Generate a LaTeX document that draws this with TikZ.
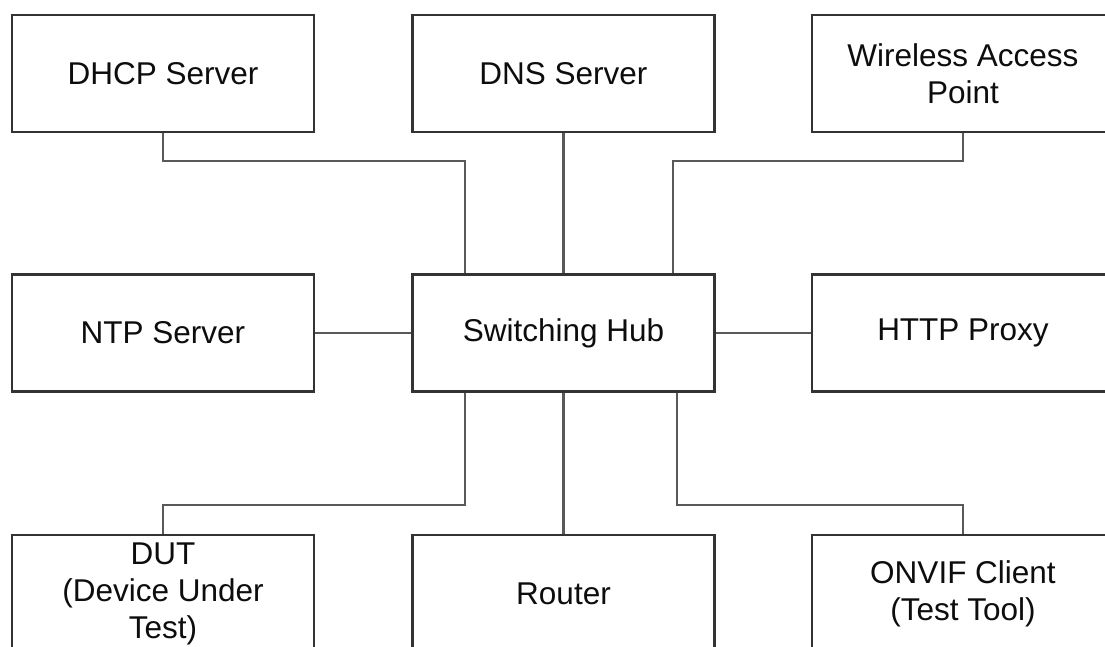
\documentclass[tikz,border=0pt]{standalone}
\usepackage{fontspec}
\setmainfont{Liberation Sans}
\begin{document}
\begin{tikzpicture}[x=1pt,y=-1pt,
  box/.style={draw=black!80, line width=2.2pt, fill=white, minimum width=302pt, minimum height=117pt,
    align=center, inner sep=0pt, text=black!95, font=\fontsize{31.5}{37}\selectfont},
  conn/.style={draw=black!65, line width=2.2pt}]
\useasboundingbox (0,0) rectangle (1105,646);
\node[box] (dhcp) at (163,73.5) {DHCP Server};
\node[box] (dns) at (563.5,73.5) {DNS Server};
\node[box] (wap) at (963,73.5) {Wireless Access\\Point};
\node[box] (ntp) at (163,333) {NTP Server};
\node[box] (hub) at (563.5,333) {Switching Hub};
\node[box] (http) at (963,333) {HTTP Proxy};
\node[box] (dut) at (163,593.5) {DUT\\(Device Under\\Test)};
\node[box] (router) at (563.5,593.5) {Router};
\node[box] (onvif) at (963,593.5) {ONVIF Client\\(Test Tool)};
\draw[conn] (dhcp.south) -- ++(0,28) -| ([xshift=-98.5pt]hub.north);
\draw[conn] (dns.south) -- (hub.north);
\draw[conn] (wap.south) -- ++(0,28) -| ([xshift=109.5pt]hub.north);
\draw[conn] (ntp.east) -- (hub.west);
\draw[conn] (hub.east) -- (http.west);
\draw[conn] ([xshift=-98.5pt]hub.south) |- ([yshift=29pt]dut.north) -- (dut.north);
\draw[conn] (hub.south) -- (router.north);
\draw[conn] ([xshift=113.5pt]hub.south) |- ([yshift=29pt]onvif.north) -- (onvif.north);
\end{tikzpicture}
\end{document}
